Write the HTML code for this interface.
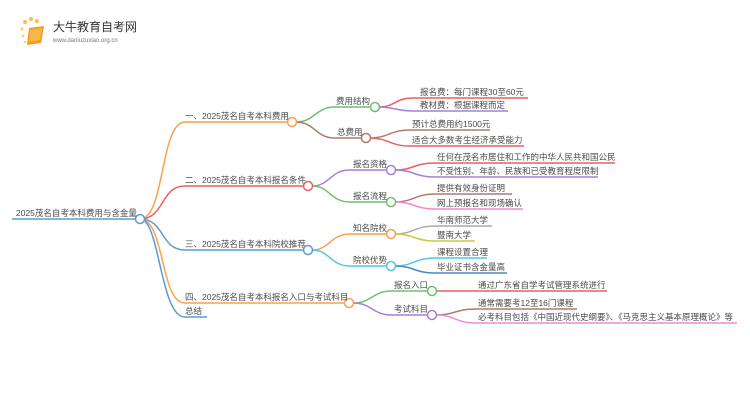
<!DOCTYPE html>
<html><head><meta charset="utf-8"><style>
html,body{margin:0;padding:0;background:#fff;width:750px;height:410px;overflow:hidden}
svg text{font-family:"Liberation Sans","Noto Sans CJK SC",sans-serif;font-size:8.5px;fill:#4a4a4a}
</style></head><body>
<svg width="750" height="410" viewBox="0 0 750 410" xmlns="http://www.w3.org/2000/svg">
<g>
<circle cx="25" cy="22" r="2" fill="#f8c14a"/><circle cx="31" cy="19" r="2" fill="#f8c14a"/><circle cx="37" cy="21" r="2" fill="#f8c14a"/><circle cx="22" cy="29" r="1.6" fill="#f8d27a"/><circle cx="23" cy="36" r="1.4" fill="#f8d27a"/><circle cx="25" cy="42" r="1.2" fill="#f8d27a"/>
<path d="M29 28 L44 26 L41 43 L27 45 Z" fill="#f39a1c"/>
<path d="M30 30 L42 28 L40 40 L29 42 Z" fill="#f7b84a"/>
<text x="53" y="31" style="font-size:12px;fill:#333">大牛教育自考网</text>
<text x="53" y="42" style="font-size:6px;fill:#777">www.daniuzuxiao.org.cn</text>
</g>
<g fill="none" stroke-width="1.5">
<path d="M12 219 H135" stroke="#5b9bd5"/>
<path d="M140 219 C165 219,160 122,185 122 H288" stroke="#f9a04b"/>
<path d="M140 219 C165 219,160 186,185 186 H304" stroke="#e86060"/>
<path d="M140 219 C165 219,160 250,185 250 H304" stroke="#5b9bd5"/>
<path d="M140 219 C165 219,160 303,185 303 H345" stroke="#f9a04b"/>
<path d="M140 219 C160 219,160 317,185 317 H207" stroke="#5b9bd5"/>
<path d="M296 122 C315 122,315 107,335 107 H371" stroke="#6cc16c"/>
<path d="M296 122 C315 122,315 138,335 138 H362" stroke="#b07a6e"/>
<path d="M379 107 C395 107,395 98,413 98 H528" stroke="#e86060"/>
<path d="M379 107 C395 107,395 111,413 111 H508" stroke="#a77fd6"/>
<path d="M370 138 C388 138,390 130,410 130 H490" stroke="#b07a6e"/>
<path d="M370 138 C388 138,390 146,410 146 H524" stroke="#e86060"/>
<path d="M312 186 C330 186,330 170,350 170 H387" stroke="#a77fd6"/>
<path d="M312 186 C330 186,330 202,350 202 H387" stroke="#6cc16c"/>
<path d="M395 170 C413 170,415 163,435 163 H615" stroke="#e86060"/>
<path d="M395 170 C413 170,415 177,435 177 H598" stroke="#a77fd6"/>
<path d="M395 202 C413 202,415 194,435 194 H512" stroke="#b07a6e"/>
<path d="M395 202 C413 202,415 209,435 209 H523" stroke="#f08ad0"/>
<path d="M312 250 C330 250,330 234,350 234 H387" stroke="#f9a04b"/>
<path d="M312 250 C330 250,330 266,350 266 H387" stroke="#4fc8dc"/>
<path d="M395 234 C413 234,415 226,435 226 H492" stroke="#aaa"/>
<path d="M395 234 C413 234,415 241,435 241 H475" stroke="#c8c850"/>
<path d="M395 266 C413 266,415 258,435 258 H487" stroke="#4fc8dc"/>
<path d="M395 266 C413 266,415 273,435 273 H507" stroke="#4a86c8"/>
<path d="M353 303 C372 303,372 291,392 291 H428" stroke="#6cc16c"/>
<path d="M353 303 C372 303,372 315,392 315 H428" stroke="#a77fd6"/>
<path d="M436 291 H607" stroke="#e86060"/>
<path d="M436 315 C455 315,455 309,476 309 H577" stroke="#b07a6e"/>
<path d="M436 315 C455 315,455 323,476 323 H737" stroke="#f08ad0"/>
</g>
<g fill="#fff" stroke-width="1.5">
<circle cx="140" cy="219" r="4.5" stroke="#5b9bd5"/>
<circle cx="292" cy="122" r="4.5" stroke="#f9a04b"/>
<circle cx="308" cy="186" r="4.5" stroke="#e86060"/>
<circle cx="308" cy="250" r="4.5" stroke="#5b9bd5"/>
<circle cx="349" cy="303" r="4.5" stroke="#f9a04b"/>
<circle cx="375" cy="107" r="4.5" stroke="#6cc16c"/>
<circle cx="366" cy="138" r="4.5" stroke="#b07a6e"/>
<circle cx="391" cy="170" r="4.5" stroke="#a77fd6"/>
<circle cx="391" cy="202" r="4.5" stroke="#6cc16c"/>
<circle cx="391" cy="234" r="4.5" stroke="#f9a04b"/>
<circle cx="391" cy="266" r="4.5" stroke="#4fc8dc"/>
<circle cx="432" cy="291" r="4.5" stroke="#6cc16c"/>
<circle cx="432" cy="315" r="4.5" stroke="#a77fd6"/>
</g>
<text x="16" y="216">2025茂名自考本科费用与含金量</text>
<text x="185" y="119">一、2025茂名自考本科费用</text>
<text x="185" y="183">二、2025茂名自考本科报名条件</text>
<text x="185" y="247">三、2025茂名自考本科院校推荐</text>
<text x="185" y="300">四、2025茂名自考本科报名入口与考试科目</text>
<text x="185" y="314">总结</text>
<text x="336" y="104">费用结构</text>
<text x="337" y="135">总费用</text>
<text x="353" y="167">报名资格</text>
<text x="353" y="199">报名流程</text>
<text x="353" y="231">知名院校</text>
<text x="353" y="263">院校优势</text>
<text x="394" y="288">报名入口</text>
<text x="394" y="312">考试科目</text>
<text x="420" y="95">报名费：每门课程30至60元</text>
<text x="420" y="108">教材费：根据课程而定</text>
<text x="412" y="127">预计总费用约1500元</text>
<text x="412" y="143">适合大多数考生经济承受能力</text>
<text x="437" y="160">任何在茂名市居住和工作的中华人民共和国公民</text>
<text x="437" y="174">不受性别、年龄、民族和已受教育程度限制</text>
<text x="437" y="191">提供有效身份证明</text>
<text x="437" y="206">网上预报名和现场确认</text>
<text x="437" y="223">华南师范大学</text>
<text x="437" y="238">暨南大学</text>
<text x="437" y="255">课程设置合理</text>
<text x="437" y="270">毕业证书含金量高</text>
<text x="478" y="288">通过广东省自学考试管理系统进行</text>
<text x="478" y="306">通常需要考12至16门课程</text>
<text x="478" y="320">必考科目包括《中国近现代史纲要》、《马克思主义基本原理概论》等</text>
</svg>
</body></html>
